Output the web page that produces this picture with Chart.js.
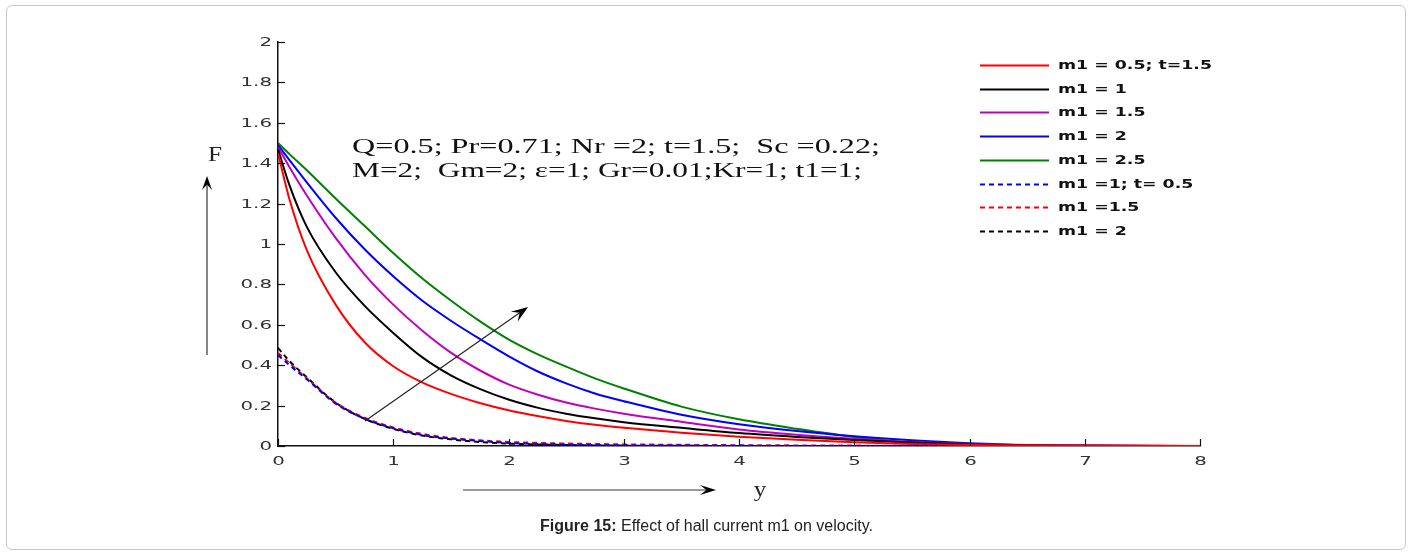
<!DOCTYPE html>
<html>
<head>
<meta charset="utf-8">
<script src="https://cdn.jsdelivr.net/npm/chart.js@4.4.0/dist/chart.umd.min.js"></script>
<style>
html, body { margin: 0; padding: 0; background: #fff; }
.frame { position: absolute; left: 6px; top: 5px; width: 1398px; height: 543px; border: 1px solid #c8c8c8; border-radius: 6px; }
.wrap { position: absolute; left: 0; top: 0; width: 1413px; height: 555px; }
.caption { position: absolute; left: 0; top: 517px; width: 1413px; text-align: center; font-family: "Liberation Sans", Arial, sans-serif; font-size: 16px; color: #222; }
</style>
</head>
<body>
<div class="frame"></div>
<div class="wrap"><canvas id="chart"></canvas></div>
<div class="caption"><b>Figure 15:</b> Effect of hall current m1 on velocity.</div>
<script>
// distance y (x axis) and velocity F for each case
const distance = [0, 0.1, 0.25, 0.5, 0.75, 1, 1.25, 1.5, 1.75, 2, 2.25, 2.5, 2.75, 3, 3.5, 4, 4.5, 5, 5.5, 6, 6.5, 7, 8];

const m1Half    = [1.45, 1.22, 0.97, 0.70, 0.515, 0.395, 0.315, 0.258, 0.213, 0.177, 0.148, 0.124, 0.105, 0.09, 0.066, 0.046, 0.031, 0.019, 0.01, 0.005, 0.002, 0.001, 0];
const m1One     = [1.47, 1.29, 1.085, 0.86, 0.695, 0.56, 0.44, 0.35, 0.283, 0.23, 0.19, 0.16, 0.137, 0.118, 0.09, 0.064, 0.045, 0.03, 0.017, 0.008, 0.003, 0.001, 0];
const m1OneHalf = [1.48, 1.38, 1.24, 1.03, 0.85, 0.70, 0.572, 0.462, 0.375, 0.305, 0.255, 0.215, 0.185, 0.16, 0.12, 0.082, 0.056, 0.036, 0.02, 0.01, 0.004, 0.001, 0];
const m1Two     = [1.49, 1.415, 1.305, 1.13, 0.975, 0.84, 0.72, 0.62, 0.53, 0.445, 0.37, 0.31, 0.26, 0.222, 0.155, 0.108, 0.074, 0.048, 0.028, 0.014, 0.005, 0.002, 0];
const m1TwoHalf = [1.50, 1.445, 1.365, 1.225, 1.09, 0.955, 0.83, 0.72, 0.618, 0.528, 0.455, 0.393, 0.335, 0.285, 0.195, 0.132, 0.085, 0.045, 0.018, 0.006, 0.002, 0.001, 0];

// t = 0.5
const m1OneT05     = [0.45, 0.40, 0.33, 0.21, 0.135, 0.088, 0.055, 0.037, 0.025, 0.015, 0.01, 0.007, 0.005, 0.003, 0.002, 0.001, 0, 0, 0, 0, 0, 0, 0];
const m1OneHalfT05 = [0.46, 0.41, 0.335, 0.215, 0.14, 0.092, 0.06, 0.04, 0.028, 0.02, 0.016, 0.012, 0.01, 0.008, 0.006, 0.004, 0.003, 0.002, 0.001, 0.001, 0, 0, 0];
const m1TwoT05     = [0.485, 0.42, 0.34, 0.215, 0.135, 0.085, 0.052, 0.033, 0.02, 0.012, 0.008, 0.005, 0.003, 0.002, 0.001, 0, 0, 0, 0, 0, 0, 0, 0];

const seriesLabels = ['m1 = 0.5; t=1.5', 'm1 = 1', 'm1 = 1.5', 'm1 = 2', 'm1 = 2.5', 'm1 =1; t= 0.5', 'm1 =1.5', 'm1 = 2'];
const xTickLabels = ['0', '1', '2', '3', '4', '5', '6', '7', '8'];
const yTickLabels = ['0', '0.2', '0.4', '0.6', '0.8', '1', '1.2', '1.4', '1.6', '1.8', '2'];
const paramLines = ['Q=0.5; Pr=0.71; Nr =2; t=1.5;  Sc =0.22;', 'M=2;  Gm=2; \u03b5=1; Gr=0.01;Kr=1; t1=1;'];

const seriesValues = [m1Half, m1One, m1OneHalf, m1Two, m1TwoHalf, m1OneT05, m1OneHalfT05, m1TwoT05];
const colors = ['#ff0000', '#000000', '#c000c0', '#0000ff', '#008000', '#0000ff', '#ff0000', '#000000'];
const dashed = [false, false, false, false, false, true, true, true];

function toPoints(vals) {
    return vals.map((v, i) => ({ x: distance[i], y: v }));
}

// draw text squeezed/stretched horizontally (the figure's fonts are wide)
function wideText(ctx, text, x, y, sx, align) {
    const w = ctx.measureText(text).width * sx;
    let left = x;
    if (align === 'right') left = x - w;
    else if (align === 'center') left = x - w / 2;
    ctx.save();
    ctx.translate(left, y);
    ctx.scale(sx, 1);
    ctx.textAlign = 'left';
    ctx.fillText(text, 0, 0);
    ctx.restore();
}

function arrow(ctx, x1, y1, x2, y2, len, half) {
    const a = Math.atan2(y2 - y1, x2 - x1);
    ctx.beginPath();
    ctx.moveTo(x1, y1);
    ctx.lineTo(x2 - Math.cos(a) * len * 0.6, y2 - Math.sin(a) * len * 0.6);
    ctx.stroke();
    ctx.beginPath();
    ctx.moveTo(x2, y2);
    ctx.lineTo(x2 - Math.cos(a) * len - Math.sin(a) * half, y2 - Math.sin(a) * len + Math.cos(a) * half);
    ctx.lineTo(x2 - Math.cos(a) * len * 0.6, y2 - Math.sin(a) * len * 0.6);
    ctx.lineTo(x2 - Math.cos(a) * len + Math.sin(a) * half, y2 - Math.sin(a) * len - Math.cos(a) * half);
    ctx.closePath();
    ctx.fill();
}

const extras = {
    id: 'extras',
    afterDraw(chart) {
        const ctx = chart.ctx;
        const xs = chart.scales.x;
        const ys = chart.scales.y;
        const area = chart.chartArea;
        ctx.save();

        // inward ticks + labels
        ctx.strokeStyle = '#111';
        ctx.lineWidth = 1.2;
        ctx.fillStyle = '#333';
        ctx.font = '12px "DejaVu Sans"';
        ctx.textBaseline = 'middle';
        yTickLabels.forEach(t => {
            const py = Math.round(ys.getPixelForValue(parseFloat(t))) + 0.5;
            ctx.beginPath();
            ctx.moveTo(area.left, py);
            ctx.lineTo(area.left + 7, py);
            ctx.stroke();
            wideText(ctx, t, area.left - 6, py, 1.65, 'right');
        });
        xTickLabels.forEach(t => {
            const px = Math.round(xs.getPixelForValue(parseFloat(t))) + 0.5;
            ctx.beginPath();
            ctx.moveTo(px, area.bottom);
            ctx.lineTo(px, area.bottom - 7);
            ctx.stroke();
            wideText(ctx, t, px, area.bottom + 16, 1.65, 'center');
        });

        // parameter text
        ctx.fillStyle = '#111';
        ctx.font = '21px "Liberation Serif"';
        ctx.textBaseline = 'alphabetic';
        const fitW = [528, 510];
        paramLines.forEach((line, i) => {
            const sx = fitW[i] / ctx.measureText(line).width;
            wideText(ctx, line, 352, 153 + i * 24, sx, 'left');
        });

        // arrow across the curves
        ctx.strokeStyle = '#222';
        ctx.fillStyle = '#000';
        ctx.lineWidth = 1.2;
        arrow(ctx, xs.getPixelForValue(0.755), ys.getPixelForValue(0.124),
              xs.getPixelForValue(2.17), ys.getPixelForValue(0.688), 17, 6);

        // axis titles with arrows
        ctx.strokeStyle = '#333';
        arrow(ctx, 207, 355, 207, 176, 14, 5);
        arrow(ctx, 463, 490, 716, 490, 16, 5);
        ctx.fillStyle = '#222';
        ctx.font = '21px "Liberation Serif"';
        ctx.textBaseline = 'middle';
        wideText(ctx, 'F', 215, 155, 1.2, 'center');
        wideText(ctx, 'y', 760, 490, 1.2, 'center');

        // legend
        ctx.font = 'bold 12px "DejaVu Sans"';
        ctx.textBaseline = 'middle';
        const lsx = 154 / ctx.measureText(seriesLabels[0]).width;
        chart.data.datasets.forEach((ds, i) => {
            const ly = Math.round(65 + i * 23.7) + 0.5;
            ctx.strokeStyle = ds.borderColor;
            ctx.lineWidth = 2;
            ctx.setLineDash(ds.borderDash || []);
            ctx.beginPath();
            ctx.moveTo(980, ly);
            ctx.lineTo(1049, ly);
            ctx.stroke();
            ctx.setLineDash([]);
            ctx.fillStyle = '#111';
            wideText(ctx, ds.label, 1058, ly, lsx, 'left');
        });
        ctx.restore();
    }
};

new Chart(document.getElementById('chart'), {
    type: 'line',
    data: {
        datasets: seriesValues.map((vals, i) => ({
            label: seriesLabels[i],
            data: toPoints(vals),
            borderColor: colors[i],
            borderWidth: 2,
            borderDash: dashed[i] ? [5, 4] : [],
            pointRadius: 0,
            cubicInterpolationMode: 'monotone',
            fill: false
        }))
    },
    options: {
        responsive: true,
        maintainAspectRatio: false,
        animation: false,
        layout: {
            padding: { top: 42, right: 213, left: 0, bottom: 0 }
        },
        scales: {
            x: {
                type: 'linear',
                min: 0,
                max: 8,
                ticks: { display: false, stepSize: 1 },
                grid: { display: false },
                border: { display: true, color: '#111', width: 1.5 },
                afterFit(scale) { scale.height = 109; }
            },
            y: {
                type: 'linear',
                min: 0,
                max: 2,
                ticks: { display: false, stepSize: 0.2 },
                grid: { display: false },
                border: { display: true, color: '#111', width: 1.5 },
                afterFit(scale) { scale.width = 278; }
            }
        },
        plugins: {
            legend: { display: false },
            tooltip: { enabled: false }
        }
    },
    plugins: [extras]
});
</script>
</body>
</html>
